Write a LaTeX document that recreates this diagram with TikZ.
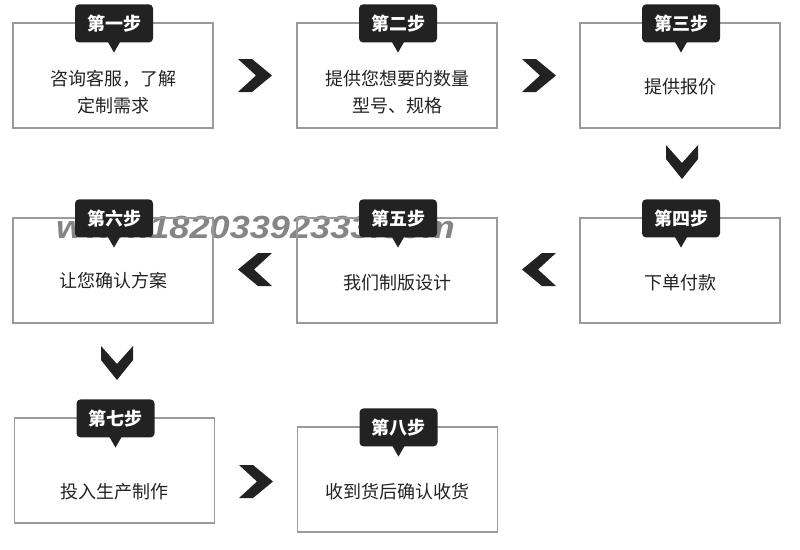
\documentclass[tikz,border=0pt]{standalone}
\usepackage{fontspec}
\newfontfamily\cjk{Noto Sans CJK SC}
\newfontfamily\wmfont{Liberation Sans}
\usetikzlibrary{calc}
\definecolor{tagdark}{HTML}{222222}
\definecolor{edgegray}{HTML}{9A9A9A}
\tikzset{
	stepbox/.style={draw=edgegray, line width=1.2pt, minimum width=200pt, minimum height=105pt, inner sep=0pt},
	steptag/.style={fill=tagdark, rounded corners=4pt, minimum width=78pt, minimum height=38pt, inner sep=0pt, text=white, font=\cjk\bfseries\fontsize{18}{18}\selectfont},
	steptext/.style={text=tagdark, align=center, inner sep=0pt, font=\cjk\fontsize{18}{27}\selectfont},
	watermark/.style={text=black!48, inner sep=0pt, xscale=1.13, font=\wmfont\bfseries\itshape\fontsize{32}{32}\selectfont}
}
\def\rchev(#1,#2){\fill[tagdark] (#1,#2) -- ++(14,0) -- ++(20,16.5) -- ++(-20,16.5) -- ++(-14,0) -- ++(18,-16.5) -- cycle;}
\def\lchev(#1,#2){\fill[tagdark] (#1+34,#2) -- ++(-14,0) -- ++(-20,16.5) -- ++(20,16.5) -- ++(14,0) -- ++(-18,-16.5) -- cycle;}
\def\dchev(#1,#2){\fill[tagdark] (#1,#2) -- ++(0,14) -- ++(16,20) -- ++(16,-20) -- ++(0,-14) -- ++(-16,18) -- cycle;}
\def\tagtip(#1){\fill[tagdark] ($(#1.south)+(-6,-0.5)$) -- ($(#1.south)+(6,-0.5)$) -- ($(#1.south)+(0,10)$) -- cycle;}

\begin{document}
\begin{tikzpicture}[x=1pt, y=-1pt]
			%%%%% START %%%%%
			\useasboundingbox (0,0) rectangle (800,549);
			
			\node[watermark, anchor=base west] (wm) at (56,238) {www.18203392333.com};
			
			\node[stepbox] (b1) at (113,75.5) {};
			\node[stepbox] (b2) at (397,75.5) {};
			\node[stepbox] (b3) at (680,75.5) {};
			
			\node[stepbox] (b4) at (680,270.5) {};
			\node[stepbox] (b5) at (397,270.5) {};
			\node[stepbox] (b6) at (113,270.5) {};
			
			\node[stepbox] (b7) at (114.5,470.5) {};
			\node[stepbox] (b8) at (397.5,479.5) {};
			
			\node[steptext] (t1) at (113,92) {咨询客服，了解\\定制需求};
			\node[steptext] (t2) at (397,92) {提供您想要的数量\\型号、规格};
			\node[steptext] (t3) at (680,87) {提供报价};
			\node[steptext] (t4) at (680,283) {下单付款};
			\node[steptext] (t5) at (397,283) {我们制版设计};
			\node[steptext] (t6) at (113,281) {让您确认方案};
			\node[steptext] (t7) at (114,492) {投入生产制作};
			\node[steptext] (t8) at (397,492) {收到货后确认收货};
			
			\rchev(238,59)
			\rchev(522,59)
			\dchev(666,145)
			\lchev(522,253)
			\lchev(238,253)
			\dchev(101,346)
			\rchev(239,465)
			
			\node[steptag] (g1) at ($(b1.north)+(1,1)$) {第一步};
			\node[steptag] (g2) at ($(b2.north)+(1,1)$) {第二步};
			\node[steptag] (g3) at ($(b3.north)+(1,1)$) {第三步};
			\node[steptag] (g4) at ($(b4.north)+(1,1)$) {第四步};
			\node[steptag] (g5) at ($(b5.north)+(1,1)$) {第五步};
			\node[steptag] (g6) at ($(b6.north)+(1,1)$) {第六步};
			\node[steptag] (g7) at ($(b7.north)+(1,1)$) {第七步};
			\node[steptag] (g8) at ($(b8.north)+(1,1)$) {第八步};
			
			\tagtip(g1) \tagtip(g2) \tagtip(g3) \tagtip(g4)
			\tagtip(g5) \tagtip(g6) \tagtip(g7) \tagtip(g8)
			
			%%%%% END %%%%%
\end{tikzpicture}
\end{document}
